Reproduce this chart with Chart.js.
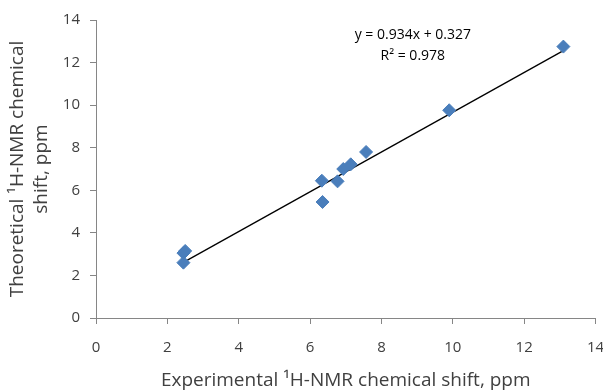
<!DOCTYPE html>
<html>
<head>
<meta charset="utf-8">
<script src="https://cdn.jsdelivr.net/npm/chart.js@4"></script>
<style>
  html, body { margin: 0; padding: 0; background: #fff; }
  #wrap { width: 603px; height: 392px; }
</style>
</head>
<body>
<div id="wrap"><canvas id="chart" width="603" height="392"></canvas></div>
<script>
// experimental vs theoretical shifts
const expShift = [2.45, 2.50, 2.45, 6.35, 6.33, 6.77, 6.93, 7.14, 7.57, 9.90, 13.10];
const theoShift = [3.05, 3.15, 2.60, 5.45, 6.45, 6.42, 7.00, 7.22, 7.80, 9.76, 12.75];
const axisTicks = [0, 2, 4, 6, 8, 10, 12, 14];
const slope = 0.934;
const intercept = 0.327;
const fitLabel = ['y = 0.934x + 0.327', 'R² = 0.978'];

const points = expShift.map((x, i) => ({ x: x, y: theoShift[i] }));
const xMin = Math.min(...expShift);
const xMax = Math.max(...expShift);
const fitLine = [
  { x: xMin, y: slope * xMin + intercept },
  { x: xMax, y: slope * xMax + intercept }
];

const font = '"Open Sans", "Liberation Sans", sans-serif';
const axisGrey = '#868686';

// equation text above the fit line
const fitText = {
  id: 'fitText',
  afterDraw(chart) {
    const { ctx, scales } = chart;
    const cx = scales.x.getPixelForValue(8.88);
    ctx.save();
    ctx.fillStyle = '#000';
    ctx.font = '14px ' + font;
    ctx.textAlign = 'center';
    ctx.textBaseline = 'middle';
    ctx.fillText(fitLabel[0], cx, scales.y.getPixelForValue(13.3));
    ctx.fillText(fitLabel[1], cx, scales.y.getPixelForValue(12.3));
    ctx.restore();
  }
};

new Chart(document.getElementById('chart'), {
  type: 'scatter',
  data: {
    datasets: [
      {
        label: 'fit',
        type: 'line',
        data: fitLine,
        borderColor: '#000',
        borderWidth: 1.3,
        pointRadius: 0,
        fill: false,
        order: 2
      },
      {
        label: 'shifts',
        data: points,
        pointStyle: 'rectRot',
        pointRadius: 6.5,
        pointHoverRadius: 6.5,
        backgroundColor: '#4a7ebb',
        borderColor: '#4a7ebb',
        borderWidth: 1,
        order: 1
      }
    ]
  },
  options: {
    responsive: false,
    animation: false,
    layout: { padding: { top: 20, right: 7, left: 0, bottom: 0 } },
    plugins: {
      legend: { display: false },
      tooltip: { enabled: false }
    },
    scales: {
      x: {
        type: 'linear',
        min: 0, max: 14,
        afterBuildTicks: (s) => { s.ticks = axisTicks.map(v => ({ value: v })); },
        afterFit: (s) => { s.height = 74; s.paddingLeft = 0; s.paddingRight = 0; },
        grid: { drawOnChartArea: false, drawTicks: true, tickLength: 6, color: axisGrey },
        border: { color: axisGrey, width: 1 },
        ticks: { color: '#404040', font: { family: font, size: 15 }, padding: 15 },
        title: {
          display: true,
          text: 'Experimental ¹H-NMR chemical shift, ppm',
          color: '#404040',
          font: { family: font, size: 19 },
          padding: { top: -1, bottom: 0 }
        }
      },
      y: {
        type: 'linear',
        min: 0, max: 14,
        afterBuildTicks: (s) => { s.ticks = axisTicks.map(v => ({ value: v })); },
        afterFit: (s) => { s.width = 96; s.paddingTop = 0; s.paddingBottom = 0; },
        grid: { drawOnChartArea: false, drawTicks: true, tickLength: 6, color: axisGrey },
        border: { color: axisGrey, width: 1 },
        ticks: { color: '#404040', font: { family: font, size: 15 }, padding: 10 },
        title: {
          display: true,
          text: ['Theoretical ¹H-NMR chemical', 'shift, ppm'],
          color: '#404040',
          font: { family: font, size: 19, lineHeight: 1.25 },
          padding: { top: 6, bottom: 0 }
        }
      }
    }
  },
  plugins: [fitText]
});
</script>
</body>
</html>
